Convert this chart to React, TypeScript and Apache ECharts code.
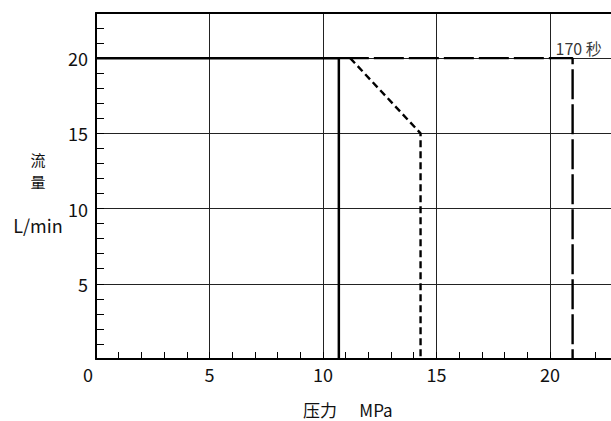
import React, { useEffect, useRef } from 'react';
import * as echarts from 'echarts';

// ---- data ----
const xMax = 23;
const yMax = 23;
const majorStep = 5;
const minorStep = 1;
const solidLine: number[][] = [[0, 20], [10.7, 20], [10.7, 0]];
const shortDashLine: number[][] = [[11.2, 20], [14.3, 15], [14.3, 0]];
const longDashLine: number[][] = [[10.7, 20], [21, 20], [21, 0]];
const annotationPoint: number[][] = [[21, 20]];
const annotationText = '170 秒';
const xAxisName = ['压力', 'MPa'];
const yAxisName = ['流', '量', 'L/min'];

const FONT = '"Noto Sans CJK SC", "Noto Sans", sans-serif';

export default function App() {
  const ref = useRef<HTMLDivElement>(null);
  useEffect(() => {
    if (!ref.current) return;
    const chart = echarts.init(ref.current, undefined, { renderer: 'svg' });
    const isMajor = (v: number) => Math.abs(v % majorStep) < 1e-9;
    const gridOpt = { left: 96, right: -7, top: 13, bottom: 62, outerBoundsMode: 'none' };
    const txt = (text: string, x: number, y: number, size: number) => ({
      type: 'text', x, y,
      style: { text, fontSize: size, fontFamily: FONT, fill: '#111', align: 'center', verticalAlign: 'middle' },
    });
    chart.setOption({
      animation: false,
      textStyle: { fontFamily: FONT },
      grid: gridOpt,
      xAxis: [
        {
          type: 'value', min: 0, max: xMax, interval: majorStep, position: 'bottom',
          axisLine: { show: true, lineStyle: { color: '#000', width: 2 } },
          axisTick: { show: false },
          axisLabel: {
            show: true, margin: 6, fontSize: 18, color: '#111', fontFamily: FONT,
            formatter: (v: number) => (v === 0 ? '{z|0}' : isMajor(v) ? String(v) : ''),
            rich: { z: { fontSize: 18, color: '#111', fontFamily: FONT, padding: [0, 16, 0, 0] } },
          },
          splitLine: { show: true, lineStyle: { color: '#222', width: 1 } },
        },
        {
          type: 'value', min: 0, max: xMax, interval: minorStep, position: 'bottom',
          axisLine: { show: false },
          axisTick: { show: true, inside: true, length: 7, lineStyle: { color: '#000', width: 1 } },
          axisLabel: { show: false },
          splitLine: { show: false },
        },
        {
          type: 'value', min: 0, max: xMax, interval: majorStep, position: 'top',
          axisLine: { show: true, lineStyle: { color: '#000', width: 2 } },
          axisTick: { show: false },
          axisLabel: { show: false },
          splitLine: { show: false },
        },
      ],
      yAxis: [
        {
          type: 'value', min: 0, max: yMax, interval: majorStep, position: 'left',
          axisLine: { show: true, lineStyle: { color: '#000', width: 2 } },
          axisTick: { show: false },
          axisLabel: {
            show: true, margin: 8, fontSize: 18, color: '#111', fontFamily: FONT,
            formatter: (v: number) => (v !== 0 && isMajor(v) ? String(v) : ''),
          },
          splitLine: { show: true, lineStyle: { color: '#222', width: 1 } },
        },
        {
          type: 'value', min: 0, max: yMax, interval: minorStep, position: 'left',
          axisLine: { show: false },
          axisTick: { show: true, inside: true, length: 8, lineStyle: { color: '#000', width: 1 } },
          axisLabel: { show: false },
          splitLine: { show: false },
        },
      ],
      series: [
        {
          type: 'line', data: solidLine, xAxisIndex: 0, yAxisIndex: 0,
          showSymbol: false, symbol: 'none',
          lineStyle: { color: '#000', width: 2.5, type: 'solid' },
        },
        {
          type: 'line', data: shortDashLine, xAxisIndex: 0, yAxisIndex: 0,
          showSymbol: false, symbol: 'none',
          lineStyle: { color: '#000', width: 2.4, type: [7, 4] },
        },
        {
          type: 'line', data: longDashLine, xAxisIndex: 0, yAxisIndex: 0,
          showSymbol: false, symbol: 'none',
          lineStyle: { color: '#000', width: 2.4, type: [30, 5] },
        },
        {
          type: 'scatter', data: annotationPoint, xAxisIndex: 0, yAxisIndex: 0,
          symbol: 'circle', symbolSize: 1, itemStyle: { color: 'rgba(0,0,0,0)' },
          label: {
            show: true, formatter: annotationText, position: 'top', offset: [6, 0], distance: 2,
            fontSize: 16, color: '#000', fontFamily: FONT,
          },
          silent: true,
        },
      ],
      graphic: [
        txt(yAxisName[0], 38, 159, 15),
        txt(yAxisName[1], 38, 181, 15),
        txt(yAxisName[2], 38, 225, 18),
        txt(xAxisName[0], 320, 409, 17),
        txt(xAxisName[1], 376, 409, 17),
      ],
    });
    return () => chart.dispose();
  }, []);
  return (
    <div
      ref={ref}
      style={{ position: 'fixed', left: 0, top: 0, width: 611, height: 421, background: '#fff' }}
    />
  );
}
